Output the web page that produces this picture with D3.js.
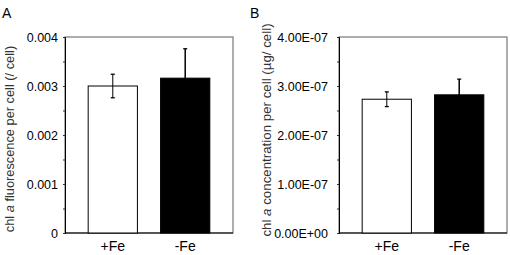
<!DOCTYPE html>
<html>
<head>
<meta charset="utf-8">
<script src="https://cdn.jsdelivr.net/npm/d3@7"></script>
<style>
  body { margin: 0; background: #fff; }
  svg { display: block; font-family: "Liberation Sans", Arial, sans-serif; }
</style>
</head>
<body>
<svg id="chart"></svg>
<script>
const categories = ['+Fe', '-Fe'];
const fluorValues = [0.00300, 0.00316];
const fluorErrors = [0.00024, 0.00060];
const concValues = [2.73e-7, 2.82e-7];
const concErrors = [0.15e-7, 0.32e-7];
const fluorTicks = [0, 0.001, 0.002, 0.003, 0.004];
const concTicks = [0, 1e-7, 2e-7, 3e-7, 4e-7];
const fills = ['#fff', '#000'];

const svgW = 510, svgH = 255;
const svgE = d3.select('#chart').attr('width', svgW).attr('height', svgH);

function drawPanel(opt) {
    const x = d3.scaleBand().domain(categories).range([opt.left, opt.right]).padding(0.32);
    const y = d3.scaleLinear().domain([0, opt.max]).range([233, 37]);
    const g = svgE.append('g');

    // frame
    g.append('rect')
        .attr('x', opt.left).attr('y', y(opt.max))
        .attr('width', opt.right - opt.left).attr('height', y(0) - y(opt.max))
        .attr('fill', 'none').attr('stroke', '#777').attr('stroke-width', 1.2);

    // minor ticks
    const minor = d3.range(0, opt.ticks.length - 1).map((i) => (opt.ticks[i] + opt.ticks[i + 1]) / 2);
    g.append('g')
        .attr('transform', `translate(${opt.left},0)`)
        .call(d3.axisLeft(y).tickValues(minor).tickSize(2).tickFormat(''))
        .call((a) => a.select('.domain').remove())
        .selectAll('line').attr('stroke', '#333');

    // major ticks + labels
    const ax = g.append('g')
        .attr('transform', `translate(${opt.left},0)`)
        .call(d3.axisLeft(y).tickValues(opt.ticks).tickSize(2).tickPadding(opt.pad).tickFormat(opt.fmt));
    ax.select('.domain').attr('stroke', '#000');
    ax.selectAll('line').attr('stroke', '#333');
    ax.selectAll('text').attr('font-size', 12.5).attr('fill', '#000')
        .attr('font-family', '"Liberation Sans", Arial, sans-serif');

    // bottom line
    g.append('line')
        .attr('x1', opt.left).attr('x2', opt.right)
        .attr('y1', y(0)).attr('y2', y(0))
        .attr('stroke', '#000').attr('stroke-width', 1.2);

    // bars
    g.selectAll('.bar').data(opt.values).enter().append('rect')
        .attr('x', (d, i) => x(categories[i]))
        .attr('y', (d) => y(d))
        .attr('width', x.bandwidth())
        .attr('height', (d) => y(0) - y(d))
        .attr('fill', (d, i) => fills[i])
        .attr('stroke', '#000').attr('stroke-width', 1);

    // error bars
    opt.values.forEach((v, i) => {
        const cx = x(categories[i]) + x.bandwidth() / 2;
        const e = opt.errors[i];
        g.append('line').attr('x1', cx).attr('x2', cx)
            .attr('y1', y(v + e)).attr('y2', y(v - e))
            .attr('stroke', '#000').attr('stroke-width', i === 1 ? 1.5 : 1);
        [v + e, v - e].forEach((w) => {
            g.append('line').attr('x1', cx - 2).attr('x2', cx + 2)
                .attr('y1', y(w)).attr('y2', y(w))
                .attr('stroke', '#000').attr('stroke-width', 1.3);
        });
    });

    // category labels
    g.selectAll('.cat').data(categories).enter().append('text')
        .attr('x', (d) => x(d) + x.bandwidth() / 2)
        .attr('y', 251)
        .attr('text-anchor', 'middle')
        .attr('font-size', 14)
        .text((d) => d);

    // axis title
    const t = g.append('text')
        .attr('transform', `translate(${opt.titleX},${opt.titleY}) rotate(-90)`)
        .attr('text-anchor', 'middle')
        .attr('font-size', opt.titleSize)
        .attr('fill', '#333');
    opt.title.forEach((p) => {
        t.append('tspan').attr('font-style', p[1] ? 'italic' : 'normal').text(p[0]);
    });

    // panel letter
    g.append('text').attr('x', opt.letterX).attr('y', 18)
        .attr('font-size', 14).text(opt.letter);
}

drawPanel({
    left: 65, right: 233, max: 0.004,
    values: fluorValues, errors: fluorErrors, ticks: fluorTicks,
    fmt: (d) => d === 0 ? '0' : d3.format('.3f')(d), pad: 5,
    title: [['chl ', false], ['a', true], [' fluorescence per cell (/ cell)', false]],
    titleX: 14, titleY: 139, titleSize: 12.8, letter: 'A', letterX: 2
});

drawPanel({
    left: 339, right: 507, max: 4e-7,
    values: concValues, errors: concErrors, ticks: concTicks,
    fmt: (d) => d === 0 ? '0.00E+00' : (d / 1e-7).toFixed(2) + 'E-07', pad: 9,
    title: [['chl ', false], ['a', true], [' concentration per cell (\u00b5g/ cell)', false]],
    titleX: 271, titleY: 130, titleSize: 13.3, letter: 'B', letterX: 250
});
</script>
</body>
</html>
